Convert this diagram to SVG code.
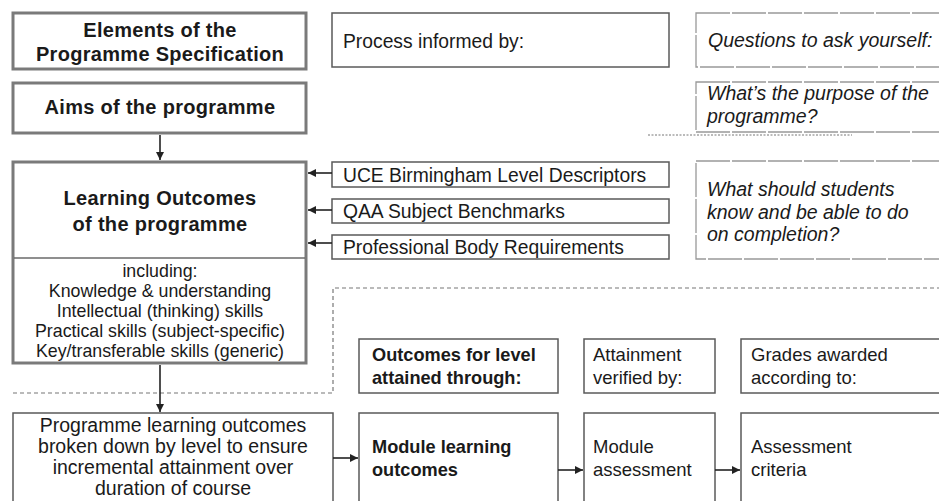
<svg xmlns="http://www.w3.org/2000/svg" width="939" height="501" viewBox="0 0 939 501">
  <style>
    .bg { fill: #ffffff; }
    .heavy { fill: #ffffff; stroke: #7a7a7a; stroke-width: 3; }
    .box { fill: #ffffff; stroke: #5a5a5a; stroke-width: 1.5; }
    .qbox { fill: #ffffff; stroke: #999; stroke-width: 1.3; stroke-dasharray: 34 2; }
    .divider { stroke: #6a6a6a; stroke-width: 1.5; }
    .dash { fill: none; stroke: #777; stroke-width: 1.2; stroke-dasharray: 4 3; }
    .dots { fill: none; stroke: #777; stroke-width: 1; stroke-dasharray: 2 1.5; }
    .conn { fill: none; stroke: #222; stroke-width: 1.6; }
    text { font-family: "Liberation Sans", Arial, sans-serif; fill: #1a1a1a; }
    .title { font-size: 20px; font-weight: bold; letter-spacing: 0.3px; text-anchor: middle; }
    .body { font-size: 19.3px; }
    .list { font-size: 17.8px; text-anchor: middle; }
    .prog { font-size: 19.5px; text-anchor: middle; }
    .ital { font-size: 19.5px; font-style: italic; }
    .low { font-size: 18.5px; }
    .lowb { font-size: 18.2px; font-weight: bold; }
  </style>
  <defs>
    <marker id="arrow" viewBox="0 0 10 10" refX="10" refY="5" markerWidth="8" markerHeight="8" markerUnits="userSpaceOnUse" orient="auto">
      <path d="M0,0 L10,5 L0,10 z" fill="#222"/>
    </marker>
  </defs>

  <rect class="bg" x="0" y="0" width="939" height="501"/>

  <!-- region separators -->
  <g id="separators">
    <path class="dash" d="M13,393 H333 V288 H939"/>
    <path class="dots" d="M648,135 H852"/>
  </g>

  <!-- left column -->
  <g id="elements">
    <rect class="heavy" x="13" y="13" width="293" height="56"/>
    <text class="title" x="160" y="37">Elements of the</text>
    <text class="title" x="160" y="61">Programme Specification</text>
  </g>

  <g id="aims">
    <rect class="heavy" x="13" y="83" width="293" height="50"/>
    <text class="title" x="160" y="114">Aims of the programme</text>
  </g>

  <g id="learning-outcomes">
    <rect class="heavy" x="13" y="162" width="293" height="201"/>
    <line class="divider" x1="14" y1="258" x2="305" y2="258"/>
    <text class="title" x="160" y="205">Learning Outcomes</text>
    <text class="title" x="160" y="231">of the programme</text>
    <text class="list" x="160" y="277">including:</text>
    <text class="list" x="160" y="297">Knowledge &amp; understanding</text>
    <text class="list" x="160" y="317">Intellectual (thinking) skills</text>
    <text class="list" x="160" y="337">Practical skills (subject-specific)</text>
    <text class="list" x="160" y="357">Key/transferable skills (generic)</text>
  </g>

  <g id="programme-by-level">
    <rect class="box" x="13" y="413" width="320" height="110"/>
    <text class="prog" x="173" y="432">Programme learning outcomes</text>
    <text class="prog" x="173" y="453">broken down by level to ensure</text>
    <text class="prog" x="173" y="474">incremental attainment over</text>
    <text class="prog" x="173" y="495">duration of course</text>
  </g>

  <!-- middle column -->
  <g id="process-informed">
    <rect class="box" x="332" y="13" width="337" height="54"/>
    <text class="body" x="343" y="48">Process informed by:</text>
  </g>

  <g id="uce-descriptors">
    <rect class="box" x="332" y="162" width="337" height="25"/>
    <text class="body" x="343" y="182">UCE Birmingham Level Descriptors</text>
  </g>

  <g id="qaa-benchmarks">
    <rect class="box" x="332" y="199" width="337" height="24"/>
    <text class="body" x="343" y="218">QAA Subject Benchmarks</text>
  </g>

  <g id="professional-body">
    <rect class="box" x="332" y="235" width="337" height="24"/>
    <text class="body" x="343" y="254">Professional Body Requirements</text>
  </g>

  <!-- right column: questions -->
  <g id="questions">
    <rect class="qbox" x="696" y="13" width="280" height="54"/>
    <text class="ital" x="708" y="47">Questions to ask yourself:</text>
  </g>

  <g id="question-purpose">
    <rect class="qbox" x="696" y="82" width="280" height="50"/>
    <text class="ital" x="707" y="100">What’s the purpose of the</text>
    <text class="ital" x="707" y="123">programme?</text>
  </g>

  <g id="question-know">
    <rect class="qbox" x="696" y="161" width="280" height="98"/>
    <text class="ital" x="707" y="196">What should students</text>
    <text class="ital" x="707" y="219">know and be able to do</text>
    <text class="ital" x="707" y="241">on completion?</text>
  </g>

  <!-- level attainment row -->
  <g id="outcomes-for-level">
    <rect class="box" x="359" y="339" width="199" height="54"/>
    <text class="lowb" x="372" y="361">Outcomes for level</text>
    <text class="lowb" x="372" y="384">attained through:</text>
  </g>

  <g id="attainment-verified">
    <rect class="box" x="584" y="339" width="131" height="54"/>
    <text class="low" x="593" y="361">Attainment</text>
    <text class="low" x="593" y="384">verified by:</text>
  </g>

  <g id="grades-awarded">
    <rect class="box" x="741" y="339" width="230" height="54"/>
    <text class="low" x="751" y="361">Grades awarded</text>
    <text class="low" x="751" y="384">according to:</text>
  </g>

  <g id="module-outcomes">
    <rect class="box" x="359" y="413" width="199" height="110"/>
    <text class="lowb" x="372" y="453">Module learning</text>
    <text class="lowb" x="372" y="476">outcomes</text>
  </g>

  <g id="module-assessment">
    <rect class="box" x="584" y="413" width="131" height="110"/>
    <text class="low" x="593" y="453">Module</text>
    <text class="low" x="593" y="476">assessment</text>
  </g>

  <g id="assessment-criteria">
    <rect class="box" x="741" y="413" width="230" height="110"/>
    <text class="low" x="751" y="453">Assessment</text>
    <text class="low" x="751" y="476">criteria</text>
  </g>

  <!-- connectors -->
  <g id="connectors">
    <line class="conn" x1="160" y1="135" x2="160" y2="160" marker-end="url(#arrow)"/>
    <line class="conn" x1="332" y1="173" x2="308" y2="173" marker-end="url(#arrow)"/>
    <line class="conn" x1="332" y1="210" x2="308" y2="210" marker-end="url(#arrow)"/>
    <line class="conn" x1="332" y1="243" x2="308" y2="243" marker-end="url(#arrow)"/>
    <line class="conn" x1="160" y1="365" x2="160" y2="412" marker-end="url(#arrow)"/>
    <line class="conn" x1="333" y1="458" x2="358" y2="458" marker-end="url(#arrow)"/>
    <line class="conn" x1="558" y1="470" x2="583" y2="470" marker-end="url(#arrow)"/>
    <line class="conn" x1="715" y1="470" x2="740" y2="470" marker-end="url(#arrow)"/>
  </g>
</svg>
